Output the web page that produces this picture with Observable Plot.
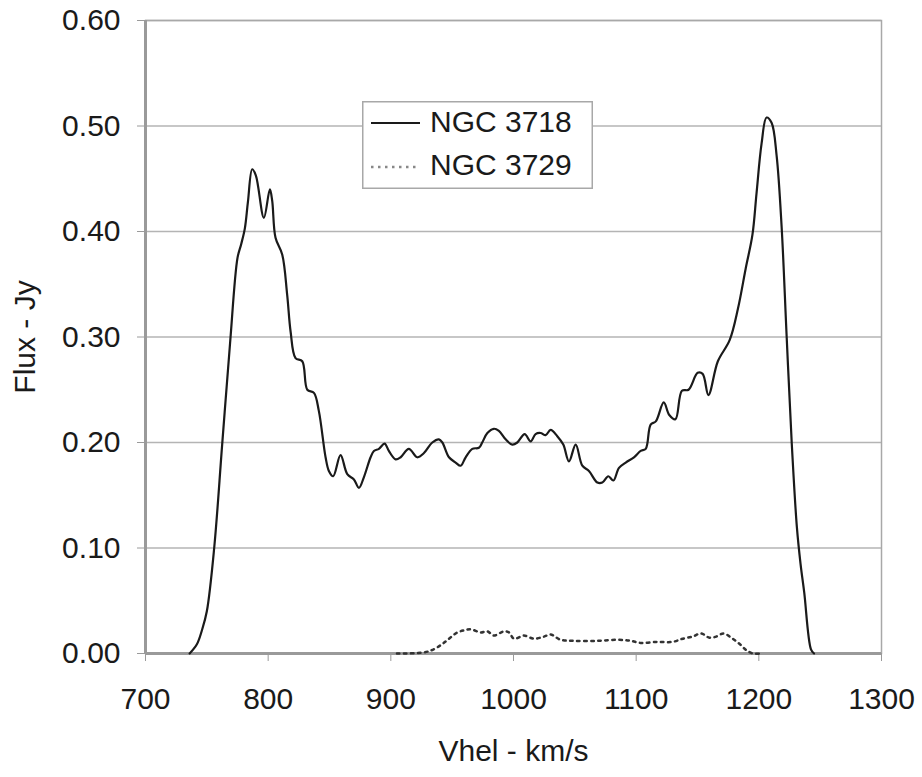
<!DOCTYPE html>
<html>
<head>
<meta charset="utf-8">
<script src="https://cdn.jsdelivr.net/npm/d3@7"></script>
<script src="https://cdn.jsdelivr.net/npm/@observablehq/plot@0.6"></script>
<style>
  html, body { margin: 0; padding: 0; background: #fff; }
  #wrap { position: relative; width: 922px; height: 777px; font-family: "Liberation Sans", Arial, sans-serif; }
  #legend { position: absolute; left: 362px; top: 101px; }
</style>
</head>
<body>
<div id="wrap"></div>
<script>
// ---- data ----
const seriesNames = ["NGC 3718", "NGC 3729"];

const v3718 = [736, 742, 746, 750, 756, 762.5, 769, 775, 778, 781, 783.5, 787, 790, 796.5, 801.4, 803.3, 806, 811.5, 815.5,
  818.3, 822.3, 827.8, 831.9, 837.3, 841.3, 846.8, 849.5, 853, 859, 864.5, 869.9, 874, 878, 883.5, 886.2, 890.3, 894.9, 898.4, 903.9,
  908, 914.7, 921.6, 927, 933.8, 939.2, 942, 947.4, 952.8, 956.9, 961, 966.4, 971.8, 974.5, 978.7, 984, 988.1, 993.6, 999, 1003.1,
  1009.1, 1014, 1018, 1022.1, 1026.2, 1030.3, 1035.7, 1040.6, 1045.2, 1050.7, 1056.1, 1061.5, 1068.4, 1072.4, 1077.3, 1081.4, 1086, 1091.5, 1098.2, 1103.7,
  1107.8, 1111.8, 1116, 1122.5, 1127, 1132, 1137.3, 1142.7, 1150.1, 1154.2, 1158.9, 1166.6, 1176.2, 1183, 1189.3, 1194.8, 1198.1, 1202.2, 1206.3, 1210.4,
  1214.5, 1218.6, 1222.7, 1226.8, 1231, 1234, 1237, 1242.5, 1245];
const f3718 = [0, 0.009, 0.022, 0.040, 0.100, 0.198, 0.295, 0.375, 0.388, 0.403, 0.428, 0.459, 0.453, 0.413, 0.440, 0.429, 0.394, 0.378, 0.340,
  0.305, 0.280, 0.277, 0.250, 0.247, 0.230, 0.186, 0.173, 0.168, 0.188, 0.170, 0.165, 0.157, 0.167, 0.186, 0.192, 0.194, 0.199, 0.192, 0.184,
  0.186, 0.194, 0.186, 0.190, 0.200, 0.203, 0.200, 0.186, 0.181, 0.178, 0.186, 0.194, 0.195, 0.200, 0.209, 0.213, 0.211, 0.203, 0.198, 0.200,
  0.208, 0.201, 0.208, 0.209, 0.207, 0.212, 0.206, 0.198, 0.182, 0.198, 0.178, 0.173, 0.162, 0.162, 0.168, 0.164, 0.176, 0.181, 0.186, 0.192,
  0.194, 0.217, 0.220, 0.238, 0.226, 0.222, 0.249, 0.250, 0.266, 0.265, 0.245, 0.277, 0.297, 0.327, 0.365, 0.397, 0.436, 0.483, 0.508, 0.503,
  0.472, 0.404, 0.300, 0.200, 0.120, 0.085, 0.058, 0.004, 0];

const v3729 = [905, 927, 935, 942, 947.4, 954.2, 960, 965, 973.2, 978.7, 984, 992.2, 996.3, 1000.4, 1008.5, 1016.7, 1024.8, 1030.3, 1038.4, 1049.3,
  1068.4, 1084.7, 1095.6, 1103.7, 1117.3, 1129.6, 1137.8, 1146, 1152.9, 1159.7, 1165.2, 1171.2, 1177.5, 1184.4, 1189.9, 1195.3, 1202];
const f3729 = [0, 0.001, 0.004, 0.009, 0.014, 0.020, 0.022, 0.023, 0.020, 0.021, 0.017, 0.021, 0.020, 0.014, 0.017, 0.014, 0.016, 0.018, 0.013, 0.012,
  0.012, 0.013, 0.012, 0.010, 0.011, 0.011, 0.014, 0.016, 0.019, 0.015, 0.016, 0.019, 0.015, 0.009, 0.003, 0.000, 0];

const xTicks = [700, 800, 900, 1000, 1100, 1200, 1300];
const yTicks = [0, 0.1, 0.2, 0.3, 0.4, 0.5, 0.6];

// ---- build ----
const d3718 = v3718.map((v, i) => ({v, f: f3718[i]}));
const d3729 = v3729.map((v, i) => ({v, f: f3729[i]}));

const chart = Plot.plot({
  width: 922,
  height: 777,
  marginLeft: 145,
  marginRight: 41,
  marginTop: 20,
  marginBottom: 124,
  style: {fontFamily: "'Liberation Sans', Arial, sans-serif", fontSize: "30px", background: "#fff", color: "#1a1a1a"},
  x: {domain: [700, 1300]},
  y: {domain: [0, 0.6]},
  marks: [
    Plot.gridY(yTicks, {stroke: "#b4b4b4", strokeOpacity: 1, strokeWidth: 1.5}),
    Plot.frame({stroke: "#a8a8a8", strokeWidth: 1.5}),
    Plot.ruleX([700], {stroke: "#9a9a9a", strokeWidth: 3}),
    Plot.ruleY([0], {stroke: "#9a9a9a", strokeWidth: 3}),
    Plot.axisY(yTicks, {tickFormat: d => d.toFixed(2), tickSize: 8, tickPadding: 17, stroke: "#9a9a9a", fill: "#1a1a1a",
      label: "Flux - Jy", labelAnchor: "center", labelArrow: "none", labelOffset: 132, fontSize: 30}),
    Plot.axisX(xTicks, {tickFormat: d => String(d), tickSize: 8, tickPadding: 26, stroke: "#9a9a9a", fill: "#1a1a1a",
      label: "Vhel - km/s", labelAnchor: "center", labelArrow: "none", labelOffset: 107, fontSize: 30}),
    Plot.line(d3729, {x: "v", y: "f", stroke: "#333", strokeWidth: 2.5, strokeDasharray: "2.5,4.5", curve: "catmull-rom"}),
    Plot.line(d3718, {x: "v", y: "f", stroke: "#1a1a1a", strokeWidth: 2.2, curve: "catmull-rom"})
  ]
});

const wrap = document.getElementById("wrap");
wrap.appendChild(chart);

// legend (HTML overlay)
const legend = d3.select(wrap).append("svg").attr("id", "legend")
  .attr("width", 231).attr("height", 88);
legend.append("rect").attr("x", 0.75).attr("y", 0.75).attr("width", 229.5).attr("height", 86.5)
  .attr("fill", "#fff").attr("stroke", "#a8a8a8").attr("stroke-width", 1.5);
const styles = [{dash: null, w: 2, c: "#1a1a1a", y: 22, ty: 31}, {dash: "2.5,4.5", w: 2.5, c: "#888", y: 66, ty: 74}];
seriesNames.forEach((name, i) => {
  const s = styles[i];
  const ln = legend.append("line").attr("x1", 9).attr("x2", 58).attr("y1", s.y).attr("y2", s.y)
    .attr("stroke", s.c).attr("stroke-width", s.w);
  if (s.dash) ln.attr("stroke-dasharray", s.dash);
  legend.append("text").attr("x", 68).attr("y", s.ty).text(name)
    .attr("font-family", "'Liberation Sans', Arial, sans-serif").attr("font-size", 30).attr("fill", "#1a1a1a");
});
</script>
</body>
</html>
